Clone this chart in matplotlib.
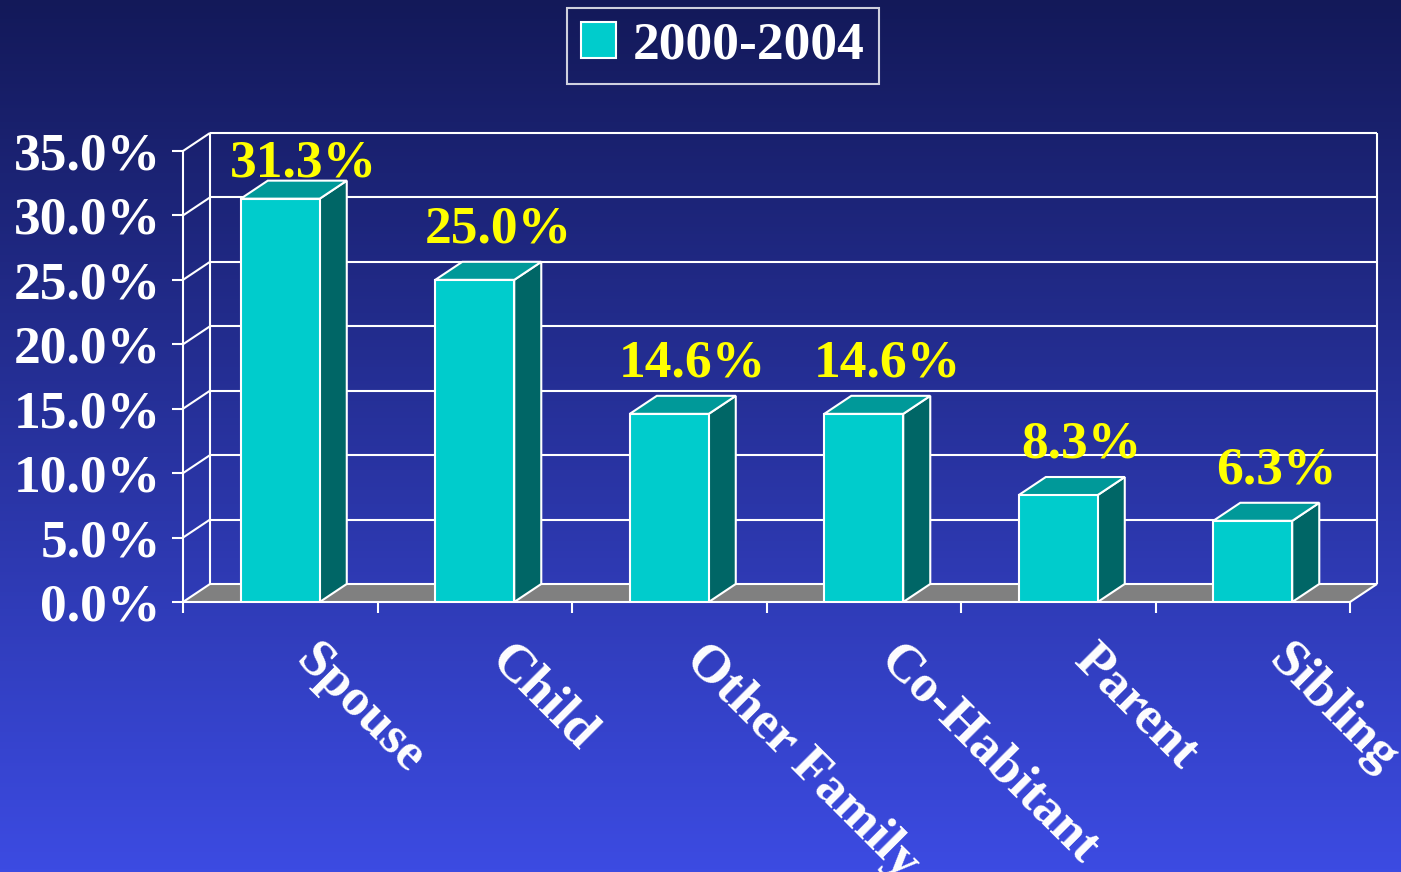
"""Relationship of victim to offender, 3D-style bar chart (2000-2004)."""

import matplotlib

matplotlib.use("Agg")
import matplotlib.pyplot as plt
import numpy as np
from matplotlib.colors import LinearSegmentedColormap
from matplotlib.patches import Polygon

categories = ["Spouse", "Child", "Other Family", "Co-Habitant", "Parent", "Sibling"]
values = [31.3, 25.0, 14.6, 14.6, 8.3, 6.3]
value_labels = ["31.3%", "25.0%", "14.6%", "14.6%", "8.3%", "6.3%"]
y_ticks = [0, 5, 10, 15, 20, 25, 30, 35]
series_name = "2000-2004"

FRONT = "#00CCCC"
TOP = "#009999"
SIDE = "#006666"
FLOOR = "#808080"
LINE = "white"
LABEL_YELLOW = "#FFFF00"
BG_TOP = "#131959"
BG_BOTTOM = "#3c4be2"

FONT = "Liberation Serif"
FS = 38.5
BAR_WIDTH = 0.406
DEPTH_X = 0.139  # depth offset in category units
DEPTH_Y = 1.40  # depth offset in percent units
LW = 1.5


def draw_background(fig):
    bg = fig.add_axes([0, 0, 1, 1], zorder=-10)
    cmap = LinearSegmentedColormap.from_list("bg", [BG_TOP, BG_BOTTOM])
    grad = np.linspace(0, 1, 256).reshape(-1, 1)
    bg.imshow(grad, cmap=cmap, aspect="auto", extent=(0, 1, 0, 1), origin="upper")
    bg.set_axis_off()


def draw_walls(ax, n, ymax):
    # grey floor
    floor = Polygon(
        [(0, 0), (n, 0), (n + DEPTH_X, DEPTH_Y), (DEPTH_X, DEPTH_Y)],
        closed=True, facecolor=FLOOR, edgecolor="none", zorder=1, clip_on=False,
    )
    ax.add_patch(floor)
    kw = dict(color=LINE, lw=LW, zorder=1.5, clip_on=False, solid_capstyle="butt")
    for v in y_ticks:
        ax.plot([DEPTH_X, n + DEPTH_X], [v + DEPTH_Y, v + DEPTH_Y], **kw)
        ax.plot([0, DEPTH_X], [v, v + DEPTH_Y], **kw)
    ax.plot([DEPTH_X, DEPTH_X], [DEPTH_Y, ymax + DEPTH_Y], **kw)
    ax.plot([n + DEPTH_X, n + DEPTH_X], [DEPTH_Y, ymax + DEPTH_Y], **kw)
    ax.plot([n, n + DEPTH_X], [0, DEPTH_Y], **kw)


def draw_bars(ax, centers):
    bars = ax.bar(
        centers, values, width=BAR_WIDTH, color=FRONT, edgecolor=LINE,
        linewidth=LW, zorder=3, label=series_name,
    )
    for rect, v in zip(bars, values):
        x0 = rect.get_x()
        x1 = x0 + rect.get_width()
        top = Polygon(
            [(x0, v), (x1, v), (x1 + DEPTH_X, v + DEPTH_Y), (x0 + DEPTH_X, v + DEPTH_Y)],
            closed=True, facecolor=TOP, edgecolor=LINE, lw=LW, zorder=2.8, clip_on=False,
        )
        side = Polygon(
            [(x1, 0), (x1 + DEPTH_X, DEPTH_Y), (x1 + DEPTH_X, v + DEPTH_Y), (x1, v)],
            closed=True, facecolor=SIDE, edgecolor=LINE, lw=LW, zorder=2.8, clip_on=False,
        )
        ax.add_patch(side)
        ax.add_patch(top)
    return bars


def main():
    fig = plt.figure(figsize=(14.01, 8.72), dpi=100)
    draw_background(fig)

    n = len(categories)
    ymax = y_ticks[-1]
    ax = fig.add_axes([183 / 1401, 1 - 602 / 872, 1167 / 1401, 451 / 872])
    ax.set_facecolor("none")
    ax.set_xlim(0, n)
    ax.set_ylim(0, ymax)
    for side in ("top", "right"):
        ax.spines[side].set_visible(False)
    for side in ("left", "bottom"):
        ax.spines[side].set_color(LINE)
        ax.spines[side].set_linewidth(LW)
        ax.spines[side].set_zorder(2)

    centers = np.arange(n) + 0.5
    draw_walls(ax, n, ymax)
    draw_bars(ax, centers)

    ax.set_yticks(y_ticks)
    ax.set_yticklabels([f"{v:.1f}%" for v in y_ticks])
    ax.set_xticks(np.arange(n + 1))
    ax.set_xticklabels([])
    ax.tick_params(colors=LINE, width=LW, length=8, direction="out", pad=8)
    for lab in ax.get_yticklabels():
        lab.set_fontfamily(FONT)
        lab.set_fontweight("bold")
        lab.set_fontsize(FS)
        lab.set_color("white")

    for c, name in zip(centers, categories):
        ax.annotate(
            name, xy=(c, 0), xytext=(29, -24), textcoords="offset points",
            rotation=-45, rotation_mode="anchor", ha="left", va="top",
            fontfamily=FONT, fontweight="bold", fontsize=FS, color="white",
        )

    for c, v, txt in zip(centers, values, value_labels):
        ax.text(
            c + 0.12, min(v + 2.9, 33.0), txt, ha="center", va="baseline",
            fontfamily=FONT, fontweight="bold", fontsize=FS, color=LABEL_YELLOW,
            zorder=5, clip_on=False,
        )

    leg = ax.legend(
        loc="upper center", bbox_to_anchor=(723 / 1401, 1 - 8 / 872),
        bbox_transform=fig.transFigure, frameon=True, fancybox=False,
        handlelength=0.64, handleheight=0.64, handletextpad=0.32,
        borderpad=0.26, borderaxespad=0,
        prop={"family": FONT, "weight": "bold", "size": FS},
    )
    frame = leg.get_frame()
    frame.set_facecolor("none")
    frame.set_edgecolor(LINE)
    frame.set_linewidth(LW)
    for t in leg.get_texts():
        t.set_color("white")

    fig.savefig("out.png", dpi=100)
    plt.close(fig)


if __name__ == "__main__":
    main()
